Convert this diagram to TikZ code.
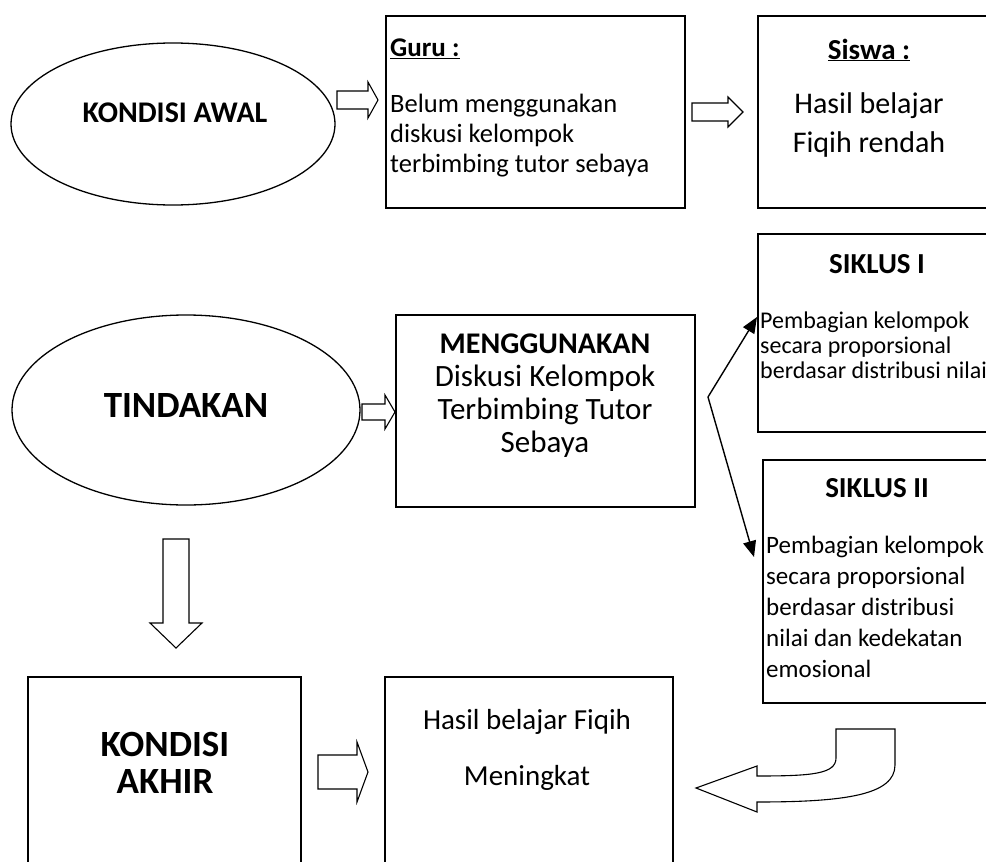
\documentclass[tikz,border=0pt]{standalone}
\usepackage{fontspec}
\setmainfont{Carlito}
\usetikzlibrary{arrows.meta,shapes.geometric}
% horizontal block arrow: #1 x start, #2 x head start, #3 x tip, #4 y centre, #5 half shaft, #6 half head
\newcommand{\hblockarrow}[6]{%
  \draw[barrow] (#1,#4-#5) -- (#2,#4-#5) -- (#2,#4-#6) -- (#3,#4) -- (#2,#4+#6) -- (#2,#4+#5) -- (#1,#4+#5) -- cycle;}
\begin{document}
\begin{tikzpicture}[x=1pt,y=-1pt,line join=miter,
  box/.style={draw,line width=1.5pt,inner sep=0pt,anchor=north west},
  ell/.style={draw,ellipse,line width=1.3pt,inner sep=0pt},
  barrow/.style={draw,line width=1.1pt,fill=white},
  txt/.style={inner sep=0pt},
  fork/.style={line width=1.4pt,-{Triangle[length=16pt,width=13pt]}}]
\clip (0,0) rectangle (986,862);
\fill[white] (0,0) rectangle (986,862);

% ---- row 1
\node[ell,minimum width=324pt,minimum height=162pt] (awal) at (173,124) {};
\node[txt,font=\fontsize{30}{34}\selectfont\bfseries] (awalt) at (175,113) {KONDISI AWAL};

\node[box,minimum width=299pt,minimum height=192pt] (guru) at (385,15) {};
\node[txt,anchor=west,font=\fontsize{27}{30}\selectfont\bfseries] (gurut) at (390,49) {\underline{Guru :}};
\node[txt,anchor=west,align=left,font=\fontsize{26.5}{30}\selectfont] (gurub) at (390,136)
  {Belum menggunakan\\diskusi kelompok\\terbimbing tutor sebaya};

\node[box,minimum width=260pt,minimum height=192pt] (siswa) at (757,15) {};
\node[txt,font=\fontsize{29}{34}\selectfont\bfseries] (siswat) at (869,50) {\underline{Siswa :}};
\node[txt,align=center,font=\fontsize{30}{39}\selectfont] (siswab) at (869,125)
  {Hasil belajar\\Fiqih rendah};

\hblockarrow{337}{368}{378}{100}{9}{18}
\hblockarrow{692}{728}{743}{112}{9}{15}

% ---- row 2
\node[ell,minimum width=348pt,minimum height=190pt] (tind) at (186,410) {};
\node[txt,font=\fontsize{37}{44}\selectfont\bfseries] (tindt) at (186,405) {TINDAKAN};

\node[box,minimum width=299pt,minimum height=192pt] (meng) at (395,314) {};
\node[txt,align=center,font=\fontsize{31}{33}\selectfont] (mengt) at (545,396)
  {\fontsize{30}{33}\selectfont\textbf{MENGGUNAKAN}\\Diskusi Kelompok\\Terbimbing Tutor\\Sebaya};

\hblockarrow{362}{385}{395}{412}{8}{17}

\node[box,minimum width=260pt,minimum height=198pt] (s1) at (757,233) {};
\node[txt,font=\fontsize{29}{34}\selectfont\bfseries] (s1t) at (877,264) {SIKLUS I};
\node[txt,anchor=west,align=left,font=\fontsize{24}{25}\selectfont] (s1b) at (760,345)
  {Pembagian kelompok\\secara proporsional\\berdasar distribusi nilai};

\node[box,minimum width=260pt,minimum height=243pt] (s2) at (762,459) {};
\node[txt,font=\fontsize{29}{34}\selectfont\bfseries] (s2t) at (877,488) {SIKLUS II};
\node[txt,anchor=west,align=left,font=\fontsize{25}{31}\selectfont] (s2b) at (766,607)
  {Pembagian kelompok\\secara proporsional\\berdasar distribusi\\nilai dan kedekatan\\emosional};

\coordinate (fk) at (708,397);
\coordinate (t1) at (757,317);
\coordinate (t2) at (754,557);
\draw[fork] (fk) -- (t1);
\draw[fork] (fk) -- (t2);

% ---- down arrow
\draw[barrow] (163,539) -- (189,539) -- (189,623) -- (202,623) -- (176,648) -- (150,623) -- (163,623) -- cycle;

% ---- row 3
\node[box,minimum width=273pt,minimum height=230pt] (akhir) at (27,676) {};
\node[txt,align=center,font=\fontsize{37}{37}\selectfont\bfseries] (akhirt) at (165,763)
  {KONDISI\\AKHIR};

\hblockarrow{318}{357}{368}{772}{17}{30}

\node[box,minimum width=288pt,minimum height=230pt] (hasil) at (384,676) {};
\node[txt,font=\fontsize{29}{32}\selectfont] (hasilt1) at (527,722) {Hasil belajar Fiqih};
\node[txt,font=\fontsize{29}{32}\selectfont] (hasilt2) at (527,778) {Meningkat};

% ---- curved U arrow
\draw[barrow] (696,788) -- (757,766) -- (757,776)
  .. controls (812,776) and (836,774) .. (836,758) -- (836,729) -- (895,729) -- (895,765)
  .. controls (895,795) and (845,802) .. (757,802) -- (757,812) -- cycle;
\end{tikzpicture}
\end{document}
